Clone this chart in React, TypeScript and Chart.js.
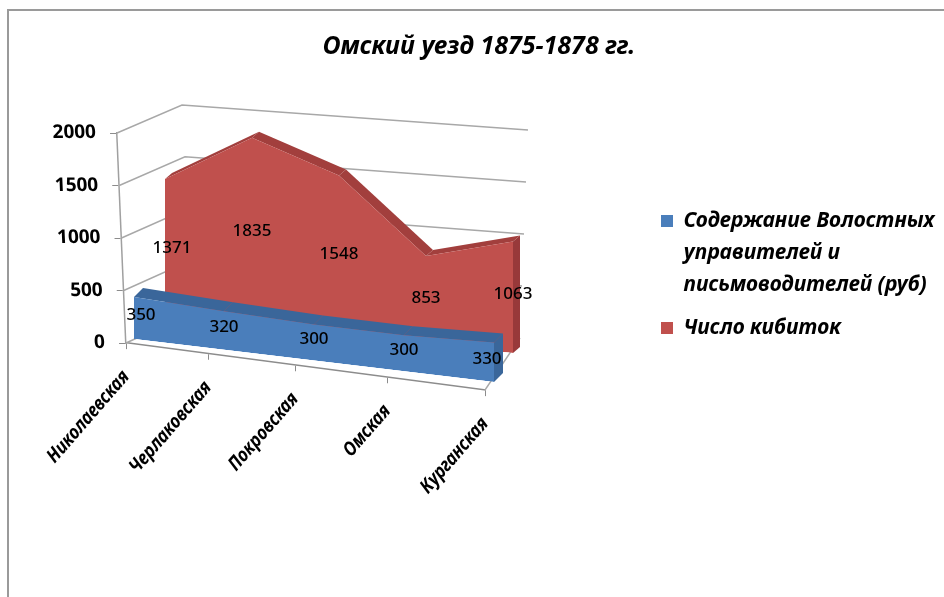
import React, { useEffect, useRef } from "react";
import { Chart, Scale, registerables } from "chart.js";

const TITLE = "Омский уезд 1875-1878 гг.";
const categories = ["Николаевская", "Черлаковская", "Покровская", "Омская", "Курганская"];
const seriesBlueName = ["Содержание Волостных", "управителей и", "письмоводителей (руб)"];
const seriesRedName = "Число кибиток";
const blueValues = [350, 320, 300, 300, 330];
const redValues = [1371, 1835, 1548, 853, 1063];

const FONT = "'Noto Sans', sans-serif";

// Oblique projection of each dataset plane: chart-area unit square -> screen
const PLANES = [
  { o: [134, 339], u: [360, 43], v: [0, -240], d: [9, -9], top: "#3A669A", side: "#3A669A", inset: [7, -7] },
  { o: [165, 323], u: [348, 30], v: [0, -210], d: [7, -6], top: "#A23F3D", side: "#98393A", inset: [7, 0] },
];
const FLOOR = { fl: [126, 343], fr: [485, 390], bl: [194, 312], br: [520, 338] };
const WALL_TOP = { fl: [117, 133], bl: [182, 105], br: [528, 130] };
const GRID = "#A8A8A8";

function planeMatrix(chart: any, p: any) {
  const { left: L, right: R, top: T, bottom: B } = chart.chartArea;
  const W = R - L, H = B - T;
  const a = p.u[0] / W, b = p.u[1] / W, c = -p.v[0] / H, d = -p.v[1] / H;
  return {
    a, b, c, d,
    e: p.o[0] - a * L + (p.v[0] * B) / H,
    f: p.o[1] - b * L + (p.v[1] * B) / H,
  };
}
const apply = (m: any, x: number, y: number) => [m.a * x + m.c * y + m.e, m.b * x + m.d * y + m.f];

function poly(ctx: CanvasRenderingContext2D, pts: number[][], fill: string) {
  ctx.beginPath();
  pts.forEach((q, i) => (i ? ctx.lineTo(q[0], q[1]) : ctx.moveTo(q[0], q[1])));
  ctx.closePath();
  ctx.fillStyle = fill;
  ctx.fill();
}

const projection = {
  id: "projection",
  beforeLayout(chart: any) {
    const { x, y } = chart.scales;
    const legend = chart.legend;
    if (legend && !legend.__fixed) {
      legend.__fixed = true;
      const fit = legend.fit;
      legend.fit = function () {
        fit.call(this);
        this.width = 459;
      };
    }
    if (!x.__proj) {
      x.__proj = true;
      const base = x.getPixelForTick;
      x.getPixelForTick = function (i: number) {
        const px = base.call(this, i);
        const t = (px - this.left) / (this.right - this.left);
        return this.left + ((t / (1 + 0.123 * (1 - t))) * (this.right - this.left));
      };
      x.draw = function (area: any) {
        const { left: L, right: R } = chart.chartArea;
        const ctx = chart.ctx;
        const k = (FLOOR.fr[1] - FLOOR.fl[1]) / (R - L);
        ctx.save();
        ctx.transform(1, k, 0, 1, 0, -k * L);
        (Scale.prototype as any).draw.call(this, area);
        ctx.restore();
      };
      y.draw = function (area: any) {
        const { top: T, bottom: B } = chart.chartArea;
        const ctx = chart.ctx;
        const c = (FLOOR.fl[0] - WALL_TOP.fl[0]) / (B - T);
        ctx.save();
        ctx.transform(1, 0, c, 1, -c * B, 0);
        (Scale.prototype as any).draw.call(this, area);
        ctx.restore();
      };
    }
  },
  afterLayout(chart: any) {
    const l = chart.legend;
    if (l) {
      l.left = 650;
      l.right = 944;
      l.top = 199.5;
      l.bottom = 597;
    }
    const t = chart.titleBlock;
    if (t) {
      t.left = 7;
      t.right = 951;
    }
  },
  beforeDatasetsDraw(chart: any) {
    const ctx = chart.ctx;
    const y = chart.scales.y;
    const { top: T, bottom: B } = chart.chartArea;
    const lerp = (a: number[], b: number[], v: number) => [a[0] + (b[0] - a[0]) * v, a[1] + (b[1] - a[1]) * v];
    ctx.save();
    ctx.lineWidth = 1.4;
    ctx.strokeStyle = GRID;
    y.ticks.forEach((tk: any) => {
      const v = (B - y.getPixelForValue(tk.value)) / (B - T);
      const a = lerp(FLOOR.fl, WALL_TOP.fl, v);
      const b = lerp(FLOOR.bl, WALL_TOP.bl, v);
      const c = lerp(FLOOR.br, WALL_TOP.br, v);
      ctx.beginPath();
      ctx.moveTo(a[0], a[1]);
      ctx.lineTo(b[0], b[1]);
      ctx.lineTo(c[0], c[1]);
      ctx.stroke();
    });
    ctx.beginPath();
    ctx.moveTo(FLOOR.fr[0], FLOOR.fr[1]);
    ctx.lineTo(FLOOR.br[0], FLOOR.br[1]);
    ctx.stroke();
    ctx.restore();
  },
  beforeDatasetDraw(chart: any, args: any) {
    const ctx = chart.ctx;
    const p = PLANES[args.index];
    const m = planeMatrix(chart, p);
    const pts = args.meta.data.map((e: any) => apply(m, e.x, e.y));
    const off = (q: number[]) => [q[0] + p.d[0], q[1] + p.d[1]];
    const last = args.meta.data[args.meta.data.length - 1];
    const base = apply(m, last.x, chart.chartArea.bottom);
    const end = pts[pts.length - 1];
    poly(ctx, [end, base, off(base), off(end)], p.side);
    for (let i = 0; i + 1 < pts.length; i++) {
      poly(ctx, [pts[i], pts[i + 1], off(pts[i + 1]), off(pts[i])], p.top);
    }
    ctx.save();
    ctx.transform(m.a, m.b, m.c, m.d, m.e, m.f);
  },
  afterDatasetDraw(chart: any) {
    chart.ctx.restore();
  },
  afterDraw(chart: any) {
    const ctx = chart.ctx;
    const yBase = chart.chartArea.bottom;
    ctx.save();
    ctx.font = `500 17px ${FONT}`;
    ctx.fillStyle = "#000";
    ctx.textAlign = "center";
    ctx.textBaseline = "middle";
    chart.data.datasets.forEach((ds: any, di: number) => {
      const p = PLANES[di];
      const m = planeMatrix(chart, p);
      const meta = chart.getDatasetMeta(di);
      meta.data.forEach((e: any, i: number) => {
        const q = apply(m, e.x, (e.y + yBase) / 2);
        const dx = i === 0 ? p.inset[0] : i === meta.data.length - 1 ? p.inset[1] : 0;
        ctx.fillText(String(ds.data[i]), q[0] + dx, q[1] - 3);
      });
    });
    ctx.restore();
  },
};

Chart.register(projection as any);
Chart.register(...registerables);

export default function App() {
  const ref = useRef<HTMLCanvasElement>(null);
  useEffect(() => {
    document.body.style.margin = "0";
    const chart = new Chart(ref.current as HTMLCanvasElement, {
      type: "line",
      data: {
        labels: categories,
        datasets: [
          { label: seriesBlueName.join(" "), data: blueValues, backgroundColor: "#4A7EBB", borderWidth: 0, pointRadius: 0, fill: "origin", clip: false, tension: 0 },
          { label: seriesRedName, data: redValues, backgroundColor: "#C0504D", borderWidth: 0, pointRadius: 0, fill: "origin", clip: false, tension: 0 },
        ],
      },
      options: {
        animation: false,
        responsive: false,
        layout: { padding: { left: 36, right: 0, top: 0, bottom: 54 } },
        plugins: {
          title: {
            display: true,
            text: TITLE,
            color: "#000",
            font: { family: FONT, size: 25, weight: "bold", style: "italic", lineHeight: 1.2 },
            padding: { top: 32, bottom: 71 },
          },
          legend: {
            display: true,
            position: "right",
            align: "start",
            labels: {
              boxWidth: 12,
              boxHeight: 12,
              padding: 11,
              color: "#000",
              font: { family: FONT, size: 21, weight: "bold", style: "italic", lineHeight: 1.524 },
              generateLabels: () => [
                { text: seriesBlueName, fillStyle: "#4A7EBB", strokeStyle: "#4A7EBB", lineWidth: 0, datasetIndex: 0 },
                { text: [seriesRedName], fillStyle: "#C0504D", strokeStyle: "#C0504D", lineWidth: 0, datasetIndex: 1 },
              ],
            },
          },
          tooltip: { enabled: false },
        },
        scales: {
          x: {
            type: "category",
            offset: false,
            afterFit: (s: any) => { s.height = 200; },
            border: { display: true, color: "#8C8C8C", width: 1.5 },
            grid: { display: true, drawOnChartArea: false, drawTicks: true, tickLength: 6, color: "#8C8C8C" },
            ticks: {
              autoSkip: false,
              minRotation: 52,
              maxRotation: 52,
              padding: 18,
              color: "#000",
              font: { family: FONT, size: 18, weight: "bold", style: "italic" },
            },
          },
          y: {
            min: 0,
            max: 2000,
            afterFit: (s: any) => { s.width = 90; },
            border: { display: true, color: "#A0A0A0", width: 1.5 },
            grid: { display: true, drawOnChartArea: false, drawTicks: true, tickLength: 7, color: "#8C8C8C" },
            ticks: {
              stepSize: 500,
              padding: 14,
              color: "#000",
              font: { family: FONT, size: 19, weight: "bold" },
              callback: (v: any) => String(v),
            },
          },
        },
      },
    } as any);
    return () => chart.destroy();
  }, []);
  return (
    <div style={{ position: "fixed", left: 0, top: 0, width: 944, height: 597, background: "#fff", overflow: "hidden" }}>
      <div style={{ position: "absolute", left: 7, top: 9, right: -2, bottom: -2, borderLeft: "2px solid #9A9A9A", borderTop: "2px solid #9A9A9A" }} />
      <canvas ref={ref} width={944} height={597} style={{ position: "absolute", left: 0, top: 0 }} />
    </div>
  );
}
